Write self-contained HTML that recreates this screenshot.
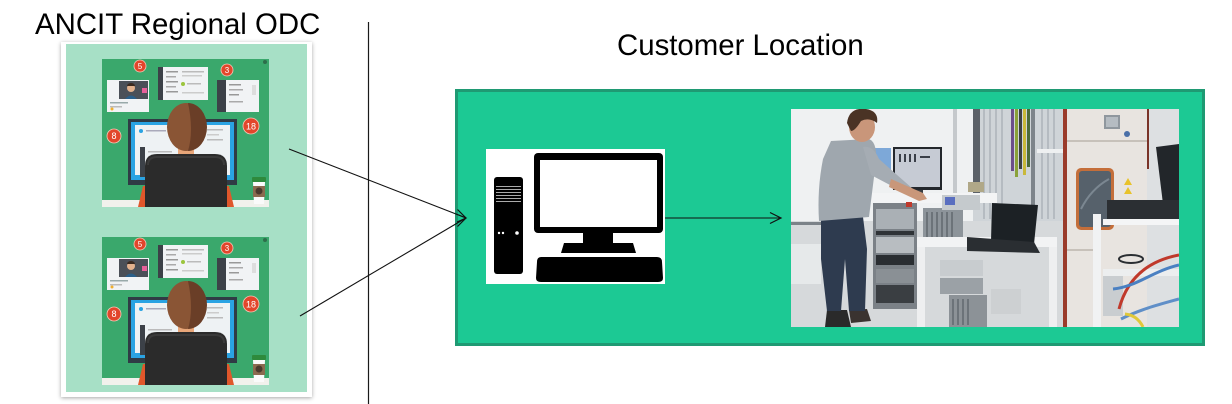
<!DOCTYPE html>
<html><head><meta charset="utf-8"><style>
*{margin:0;padding:0;box-sizing:border-box}
html,body{width:1232px;height:404px;overflow:hidden;background:#fff}
body{position:relative;font-family:"Liberation Sans",Arial,sans-serif}
.t{position:absolute;font-size:29.4px;line-height:29px;color:#000;white-space:nowrap}
.panel{position:absolute;left:61px;top:42px;width:251px;height:355px;background:#a7e0c6;border-style:solid;border-color:#fff;border-width:2px 5px 5px 5px;box-shadow:0 1px 4px rgba(0,0,0,.35)}
.ill{position:absolute;left:102px;width:167px;height:148px}
.box{position:absolute;left:455px;top:89px;width:750px;height:257px;background:#1cc994;border:3px solid #1f9a73}
.pc{position:absolute;left:486px;top:149px;width:179px;height:135px;background:#fff}
.photo{position:absolute;left:791px;top:109px;width:388px;height:218px}
svg{display:block}
</style></head><body>
<div class="t" style="left:35px;top:10px">ANCIT Regional ODC</div>
<div class="t" style="left:617px;top:31px">Customer Location</div>

<div class="panel"></div>

<svg class="ill" style="top:59px" viewBox="0 0 167 148" width="167" height="148">
<rect width="167" height="148" fill="#3aa86c"/>
<circle cx="163" cy="3" r="2" fill="#2d6e4b"/>
<rect x="5" y="21" width="42" height="32" fill="#f1f3f5"/>
<rect x="17" y="22" width="29" height="18" fill="#4b5058"/>
<circle cx="29" cy="29" r="4" fill="#e2b18d"/>
<path d="M29 24 a4 3 0 0 1 4 3 h-8 a4 3 0 0 1 4-3z" fill="#3a2a20"/>
<path d="M23 40 q6-7 12 0z" fill="#2a5f8a"/>
<rect x="40" y="29" width="5" height="5" fill="#e8609a"/>
<rect x="8" y="43" width="18" height="1.5" fill="#9aa"/><rect x="8" y="47" width="12" height="1.5" fill="#bbb"/><circle cx="10" cy="50" r="1.5" fill="#f0b030"/>
<rect x="56" y="8" width="50" height="33" fill="#f1f3f5"/>
<rect x="56" y="8" width="5" height="33" fill="#3c4148"/>
<rect x="64" y="12" width="12" height="1.5" fill="#999"/><rect x="64" y="17" width="10" height="1.5" fill="#aaa"/><rect x="64" y="22" width="12" height="1.5" fill="#999"/><rect x="64" y="27" width="10" height="1.5" fill="#aaa"/><rect x="64" y="32" width="12" height="1.5" fill="#999"/>
<rect x="80" y="12" width="22" height="1.5" fill="#bbb"/><rect x="80" y="16" width="20" height="1.5" fill="#ccc"/>
<circle cx="81" cy="25" r="2" fill="#9bc53d"/><rect x="85" y="24" width="14" height="1.5" fill="#bbb"/><rect x="80" y="33" width="22" height="1.5" fill="#ccc"/>
<rect x="115" y="21" width="42" height="32" fill="#f1f3f5"/>
<rect x="115" y="21" width="9" height="32" fill="#3c4148"/>
<rect x="127" y="25" width="12" height="1.5" fill="#999"/><rect x="127" y="30" width="14" height="1.5" fill="#aaa"/><rect x="127" y="35" width="10" height="1.5" fill="#999"/><rect x="127" y="42" width="14" height="1.5" fill="#aaa"/><rect x="150" y="26" width="4" height="10" fill="#ddd"/>
<rect x="26" y="60" width="109" height="66" fill="#2f3b45"/>
<rect x="29" y="63" width="103" height="58" fill="#2aa3e3"/>
<rect x="33" y="66" width="95" height="50" fill="#eef2f4"/>
<circle cx="39" cy="72" r="2" fill="#2aa3e3"/>
<rect x="44" y="71" width="20" height="1.5" fill="#aab"/>
<rect x="38" y="88" width="5" height="30" fill="#3c4148"/>
<rect x="46" y="92" width="24" height="1.5" fill="#bbb"/><rect x="46" y="97" width="20" height="1.5" fill="#ccc"/>
<rect x="105" y="70" width="16" height="1.5" fill="#bbb"/><rect x="105" y="75" width="12" height="1.5" fill="#ccc"/><rect x="105" y="80" width="16" height="1.5" fill="#bbb"/>
<rect x="0" y="141" width="167" height="7" fill="#f1f1ec"/>
<path d="M36 148 L41 127 L52 127 L52 148z" fill="#e0572b"/>
<path d="M116 127 L127 127 L132 148 L116 148z" fill="#e0572b"/>
<rect x="76" y="84" width="16" height="12" fill="#e8a679"/>
<ellipse cx="84" cy="68" rx="19" ry="24" fill="#8a5535"/>
<path d="M86 44 a19 24 0 0 1 0 48 q6-20-0-48z" fill="#6a3e27"/>
<path d="M43 148 V107 q0-12 12-12 h58 q12 0 12 12 V148z" fill="#2b2b2b"/>
<path d="M46 106 q0-8 9-8 h58 q9 0 9 8" fill="none" stroke="#3a3a3a" stroke-width="2"/>
<rect x="150" y="118" width="14" height="5" rx="1" fill="#2e8a3c"/>
<path d="M151 123 h12 l-1 22 h-10z" fill="#fafafa"/>
<rect x="151" y="127" width="12" height="11" fill="#8b6a4f"/>
<circle cx="157" cy="132" r="3.5" fill="#4a3a2e"/>
<g font-family="Liberation Sans,sans-serif" font-size="8" fill="#fff" text-anchor="middle">
<circle cx="38" cy="7" r="6" fill="#e2462b" stroke="#f5c9b8" stroke-width=".8"/><text x="38" y="10">5</text>
<circle cx="125" cy="11" r="6" fill="#e2462b" stroke="#f5c9b8" stroke-width=".8"/><text x="125" y="14">3</text>
<circle cx="12" cy="77" r="7" fill="#e2462b" stroke="#f5c9b8" stroke-width=".8"/><text x="12" y="80" font-size="9">8</text>
<circle cx="149" cy="67" r="8" fill="#e2462b" stroke="#f5c9b8" stroke-width=".8"/><text x="149" y="70.5" font-size="9">18</text>
</g>
</svg>

<svg class="ill" style="top:237px" viewBox="0 0 167 148" width="167" height="148">
<rect width="167" height="148" fill="#3aa86c"/>
<circle cx="163" cy="3" r="2" fill="#2d6e4b"/>
<rect x="5" y="21" width="42" height="32" fill="#f1f3f5"/>
<rect x="17" y="22" width="29" height="18" fill="#4b5058"/>
<circle cx="29" cy="29" r="4" fill="#e2b18d"/>
<path d="M29 24 a4 3 0 0 1 4 3 h-8 a4 3 0 0 1 4-3z" fill="#3a2a20"/>
<path d="M23 40 q6-7 12 0z" fill="#2a5f8a"/>
<rect x="40" y="29" width="5" height="5" fill="#e8609a"/>
<rect x="8" y="43" width="18" height="1.5" fill="#9aa"/><rect x="8" y="47" width="12" height="1.5" fill="#bbb"/><circle cx="10" cy="50" r="1.5" fill="#f0b030"/>
<rect x="56" y="8" width="50" height="33" fill="#f1f3f5"/>
<rect x="56" y="8" width="5" height="33" fill="#3c4148"/>
<rect x="64" y="12" width="12" height="1.5" fill="#999"/><rect x="64" y="17" width="10" height="1.5" fill="#aaa"/><rect x="64" y="22" width="12" height="1.5" fill="#999"/><rect x="64" y="27" width="10" height="1.5" fill="#aaa"/><rect x="64" y="32" width="12" height="1.5" fill="#999"/>
<rect x="80" y="12" width="22" height="1.5" fill="#bbb"/><rect x="80" y="16" width="20" height="1.5" fill="#ccc"/>
<circle cx="81" cy="25" r="2" fill="#9bc53d"/><rect x="85" y="24" width="14" height="1.5" fill="#bbb"/><rect x="80" y="33" width="22" height="1.5" fill="#ccc"/>
<rect x="115" y="21" width="42" height="32" fill="#f1f3f5"/>
<rect x="115" y="21" width="9" height="32" fill="#3c4148"/>
<rect x="127" y="25" width="12" height="1.5" fill="#999"/><rect x="127" y="30" width="14" height="1.5" fill="#aaa"/><rect x="127" y="35" width="10" height="1.5" fill="#999"/><rect x="127" y="42" width="14" height="1.5" fill="#aaa"/><rect x="150" y="26" width="4" height="10" fill="#ddd"/>
<rect x="26" y="60" width="109" height="66" fill="#2f3b45"/>
<rect x="29" y="63" width="103" height="58" fill="#2aa3e3"/>
<rect x="33" y="66" width="95" height="50" fill="#eef2f4"/>
<circle cx="39" cy="72" r="2" fill="#2aa3e3"/>
<rect x="44" y="71" width="20" height="1.5" fill="#aab"/>
<rect x="38" y="88" width="5" height="30" fill="#3c4148"/>
<rect x="46" y="92" width="24" height="1.5" fill="#bbb"/><rect x="46" y="97" width="20" height="1.5" fill="#ccc"/>
<rect x="105" y="70" width="16" height="1.5" fill="#bbb"/><rect x="105" y="75" width="12" height="1.5" fill="#ccc"/><rect x="105" y="80" width="16" height="1.5" fill="#bbb"/>
<rect x="0" y="141" width="167" height="7" fill="#f1f1ec"/>
<path d="M36 148 L41 127 L52 127 L52 148z" fill="#e0572b"/>
<path d="M116 127 L127 127 L132 148 L116 148z" fill="#e0572b"/>
<rect x="76" y="84" width="16" height="12" fill="#e8a679"/>
<ellipse cx="84" cy="68" rx="19" ry="24" fill="#8a5535"/>
<path d="M86 44 a19 24 0 0 1 0 48 q6-20-0-48z" fill="#6a3e27"/>
<path d="M43 148 V107 q0-12 12-12 h58 q12 0 12 12 V148z" fill="#2b2b2b"/>
<path d="M46 106 q0-8 9-8 h58 q9 0 9 8" fill="none" stroke="#3a3a3a" stroke-width="2"/>
<rect x="150" y="118" width="14" height="5" rx="1" fill="#2e8a3c"/>
<path d="M151 123 h12 l-1 22 h-10z" fill="#fafafa"/>
<rect x="151" y="127" width="12" height="11" fill="#8b6a4f"/>
<circle cx="157" cy="132" r="3.5" fill="#4a3a2e"/>
<g font-family="Liberation Sans,sans-serif" font-size="8" fill="#fff" text-anchor="middle">
<circle cx="38" cy="7" r="6" fill="#e2462b" stroke="#f5c9b8" stroke-width=".8"/><text x="38" y="10">5</text>
<circle cx="125" cy="11" r="6" fill="#e2462b" stroke="#f5c9b8" stroke-width=".8"/><text x="125" y="14">3</text>
<circle cx="12" cy="77" r="7" fill="#e2462b" stroke="#f5c9b8" stroke-width=".8"/><text x="12" y="80" font-size="9">8</text>
<circle cx="149" cy="67" r="8" fill="#e2462b" stroke="#f5c9b8" stroke-width=".8"/><text x="149" y="70.5" font-size="9">18</text>
</g>
</svg>

<div class="box"></div>

<div class="pc">
<svg viewBox="0 0 179 135" width="179" height="135">
<rect x="8" y="28" width="29" height="97" rx="3" fill="#000"/>
<g fill="#aaa"><rect x="10" y="37" width="25" height="1"/><rect x="10" y="40" width="25" height="1"/><rect x="10" y="43" width="25" height="1"/><rect x="10" y="46" width="25" height="1"/><rect x="10" y="49" width="25" height="1"/><rect x="10" y="52" width="25" height="1"/></g>
<circle cx="13" cy="84" r="1.2" fill="#fff"/><circle cx="17" cy="84" r="1.2" fill="#fff"/><circle cx="31" cy="84" r="1.8" fill="#fff"/>
<rect x="48" y="4" width="129" height="80" rx="4" fill="#000"/>
<rect x="54" y="11" width="117" height="67" fill="#fff"/>
<rect x="97" y="84" width="30" height="10" fill="#000"/>
<path d="M78 94 H147 L150 104 H75z" fill="#000"/>
<path d="M55 108 H171 Q176 108 176 113 L177 129 Q177 133 172 133 H55 Q50 133 50 129 L51 113 Q51 108 55 108z" fill="#000"/>
</svg>
</div>

<div class="photo">
<svg viewBox="0 0 388 218" width="388" height="218">
<rect width="388" height="218" fill="#e6e8ea"/>
<rect x="0" y="0" width="182" height="112" fill="#eff1f2"/>
<rect x="0" y="112" width="388" height="106" fill="#d6d9db"/>
<rect x="0" y="113" width="45" height="3" fill="#7b8288"/>
<rect x="0" y="135" width="30" height="40" fill="#e6e9ea"/>
<rect x="162" y="0" width="4" height="110" fill="#c5c9cc"/>
<rect x="182" y="0" width="90" height="112" fill="#cfd4d8"/>
<g fill="#b5bbc1"><rect x="192" y="0" width="2" height="110"/><rect x="198" y="0" width="2" height="110"/><rect x="204" y="0" width="2" height="110"/><rect x="210" y="0" width="2" height="110"/><rect x="250" y="0" width="2" height="110"/><rect x="256" y="0" width="2" height="110"/><rect x="262" y="0" width="2" height="110"/></g>
<rect x="182" y="0" width="7" height="95" fill="#5b6168"/>
<rect x="240" y="0" width="4" height="112" fill="#7d848a"/>
<rect x="220" y="0" width="3" height="62" fill="#6b4f8a"/><rect x="224" y="0" width="3" height="68" fill="#8aa23a"/><rect x="228" y="0" width="3" height="60" fill="#3b3f45"/><rect x="232" y="0" width="3" height="66" fill="#c8b83a"/><rect x="236" y="0" width="3" height="58" fill="#4a6a3a"/>
<rect x="246" y="40" width="26" height="4" fill="#eef0f1"/>
<rect x="272" y="0" width="85" height="218" fill="#e8e4e0"/>
<rect x="272" y="0" width="4" height="218" fill="#9a3b2b"/>
<rect x="276" y="31" width="80" height="2" fill="#c7c1ba"/>
<rect x="276" y="140" width="30" height="2" fill="#c7c1ba"/>
<rect x="313" y="6" width="16" height="14" fill="#8f979e"/><rect x="315" y="8" width="12" height="10" fill="#b5bcc2"/>
<circle cx="336" cy="25" r="3" fill="#4a6fa8"/>
<rect x="285" y="59" width="38" height="62" rx="5" fill="#c46e3a"/>
<rect x="288" y="62" width="32" height="56" rx="3" fill="#56616b"/>
<path d="M290 100 q10-20 28-30" stroke="#7b8791" stroke-width="2" fill="none"/>
<path d="M333 76 l4-7 4 7z M333 85 l4-7 4 7z" fill="#e8c22a"/>
<rect x="356" y="0" width="32" height="218" fill="#dde0e2"/>
<rect x="356" y="0" width="2" height="60" fill="#7a3328"/>
<path d="M365 38 L388 35 L388 95 L372 95z" fill="#22262a"/>
<rect x="316" y="91" width="72" height="20" fill="#2b2f33"/>
<rect x="312" y="110" width="76" height="6" fill="#f4f5f6"/>
<rect x="302" y="105" width="8" height="113" fill="#f1f2f3"/>
<rect x="312" y="160" width="76" height="7" fill="#eceeef"/>
<rect x="312" y="167" width="20" height="40" fill="#c9cdd0"/>
<ellipse cx="340" cy="150" rx="12" ry="4" fill="none" stroke="#2a2e32" stroke-width="2"/>
<path d="M328 200 C336 170, 356 152, 388 146" stroke="#c0392b" stroke-width="3" fill="none"/>
<path d="M322 180 C345 178, 362 162, 388 156" stroke="#4a80c2" stroke-width="3" fill="none"/>
<path d="M330 210 C350 200, 370 195, 388 190" stroke="#5f8fc8" stroke-width="3" fill="none"/>
<path d="M334 205 C345 206, 350 214, 352 218" stroke="#e0c83a" stroke-width="3" fill="none"/>
<rect x="76" y="84" width="130" height="10" fill="#f3f4f5"/>
<rect x="82" y="94" width="44" height="106" fill="#7b8187"/>
<rect x="85" y="100" width="38" height="20" fill="#aab0b5"/>
<rect x="85" y="122" width="38" height="4" fill="#2f3337"/>
<rect x="85" y="128" width="38" height="16" fill="#b8bdc1"/>
<rect x="85" y="146" width="38" height="10" fill="#2a2e32"/>
<rect x="85" y="160" width="38" height="14" fill="#8a9095"/>
<rect x="85" y="176" width="38" height="18" fill="#3a3e42"/>
<rect x="115" y="93" width="6" height="5" fill="#c0392b"/>
<rect x="132" y="99" width="40" height="36" fill="#8d949a"/>
<g fill="#6c7379"><rect x="135" y="103" width="2" height="28"/><rect x="140" y="103" width="2" height="28"/><rect x="145" y="103" width="2" height="28"/><rect x="150" y="103" width="2" height="28"/><rect x="155" y="103" width="2" height="28"/><rect x="160" y="103" width="2" height="28"/></g>
<rect x="151" y="86" width="38" height="15" fill="#c5cacd"/>
<rect x="154" y="88" width="10" height="8" fill="#5a6fc0"/>
<rect x="177" y="73" width="16" height="10" fill="#b0a888"/>
<rect x="126" y="128" width="140" height="10" fill="#f2f3f4"/>
<rect x="126" y="138" width="8" height="80" fill="#eeeff0"/>
<rect x="258" y="138" width="8" height="80" fill="#eeeff0"/>
<rect x="149" y="151" width="43" height="16" fill="#c8cccf"/>
<rect x="149" y="169" width="43" height="16" fill="#9ba1a6"/>
<rect x="158" y="186" width="38" height="32" fill="#8c9297"/>
<g fill="#6c7379"><rect x="161" y="190" width="2" height="26"/><rect x="166" y="190" width="2" height="26"/><rect x="171" y="190" width="2" height="26"/><rect x="176" y="190" width="2" height="26"/></g>
<rect x="200" y="180" width="30" height="25" fill="#cdd0d2"/>
<path d="M201 94 L247 96 L243 135 L200 132z" fill="#1c2125"/>
<path d="M176 128 L243 133 L249 144 L176 142z" fill="#2a2e32"/>
<rect x="75" y="39" width="25" height="24" fill="#7da8d8"/>
<rect x="102" y="38" width="49" height="43" fill="#23272c"/>
<rect x="104" y="40" width="45" height="38" fill="#c6cbd4"/>
<g fill="#3a3f48"><rect x="108" y="45" width="2" height="8"/><rect x="113" y="45" width="2" height="8"/><rect x="118" y="45" width="2" height="8"/><rect x="123" y="45" width="2" height="8"/><rect x="129" y="47" width="10" height="2"/></g>
<rect x="122" y="81" width="10" height="6" fill="#3a3e42"/>
<path d="M36 201 L56 201 L60 218 L34 218z" fill="#2a2a2a"/>
<path d="M58 201 L76 200 L80 212 L60 214z" fill="#3a3330"/>
<path d="M30 108 L72 108 L76 140 L74 202 L58 202 L54 150 L50 202 L36 202 L30 150z" fill="#2e3b4f"/>
<path d="M40 32 L78 30 Q88 34 84 60 L78 108 L28 112 Q26 80 32 50z" fill="#9fa7ae"/>
<path d="M72 38 Q82 36 88 50 L122 80 L118 86 L80 66z" fill="#a5acb3"/>
<path d="M100 70 L132 84 L136 90 L128 92 L98 78z" fill="#c9977a"/>
<ellipse cx="71" cy="18" rx="13" ry="15" fill="#c9967a"/>
<path d="M56 14 Q58 -2 75 0 Q88 2 86 14 Q78 8 70 12 Q64 22 60 22z" fill="#4a3325"/>
</svg>
</div>

<svg style="position:absolute;left:0;top:0" width="1232" height="404">
<line x1="368.5" y1="22" x2="368.5" y2="404" stroke="#1a1a1a" stroke-width="1.2"/>
<line x1="289" y1="149" x2="465" y2="217.5" stroke="#111" stroke-width="1.1"/>
<line x1="300" y1="316" x2="465" y2="218.5" stroke="#111" stroke-width="1.1"/>
<polyline points="457.5,209.5 466,218 457.5,226.5" fill="none" stroke="#111" stroke-width="1.2"/>
<polyline points="456,214 466,218 457,222" fill="none" stroke="#111" stroke-width="1"/>
<line x1="665" y1="218" x2="780" y2="218" stroke="#111" stroke-width="1.1"/>
<polyline points="770,212.5 781,218 770,223.5" fill="none" stroke="#111" stroke-width="1.2"/>
</svg>
</body></html>
